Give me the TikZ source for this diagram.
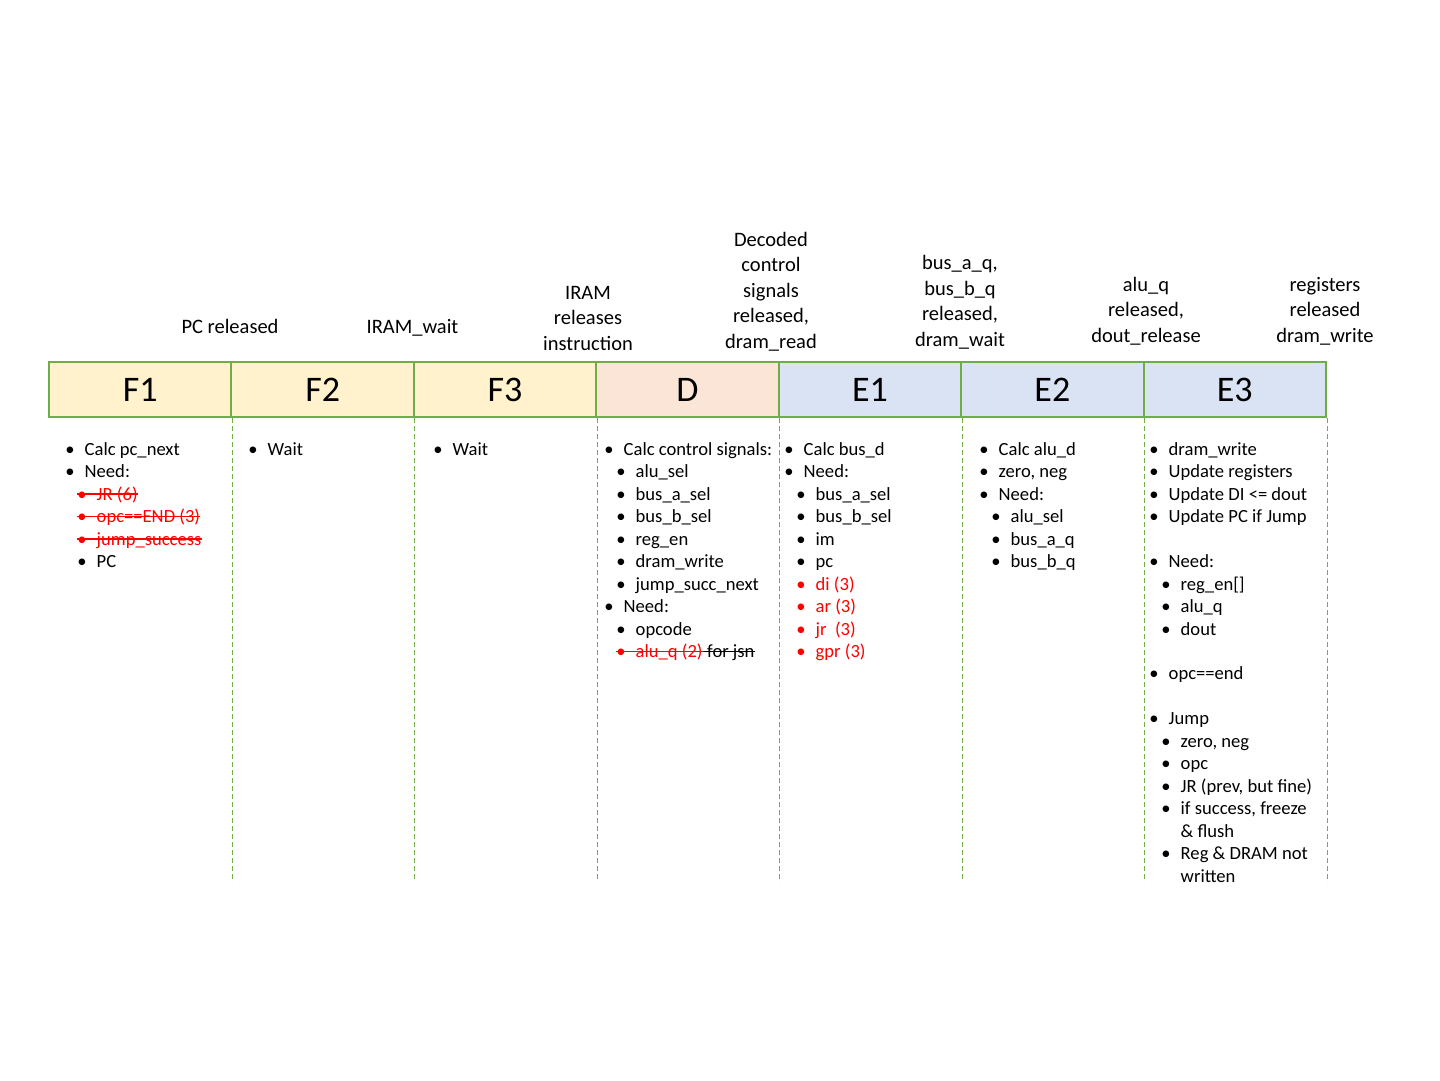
\documentclass[tikz,border=0pt]{standalone}
\usepackage{fontspec}
\setmainfont{Carlito}
\usetikzlibrary{calc}
\definecolor{bordergreen}{HTML}{70AD47}
\definecolor{fyellow}{HTML}{FFF2CC}
\definecolor{fpeach}{HTML}{FBE5D6}
\definecolor{fblue}{HTML}{DAE3F3}
\definecolor{sred}{HTML}{FF0000}
\tikzset{
 stage/.style={draw=bordergreen,line width=2pt,minimum width=182.43pt,minimum height=55pt,inner sep=0pt,font=\fontsize{36}{40}\selectfont,anchor=north west},
 body/.style={inner sep=0pt,font=\fontsize{18.6}{22}\selectfont},
 toplbl/.style={inner sep=0pt,align=center,font=\fontsize{20.5}{25.5}\selectfont,anchor=base},
 guide/.style={draw=bordergreen,line width=1pt,dash pattern=on 5pt off 3pt},
 strike/.style={line width=1.2pt}
}
\newcommand\itm[5][black]{%
 \node[body,text=#1,anchor=base] (#2b) at (#3,#4+6) {•};
 \node[body,text=#1,anchor=base west] (#2) at (#3+14.5,#4+6) {#5};}
\newcommand\plain[5][black]{%
 \node[body,text=#1,anchor=base west] (#2) at (#3+0.5,#4+6) {#5};}
\begin{document}
\begin{tikzpicture}[x=1pt,y=-1pt]
\useasboundingbox (0,0) rectangle (1440,1080);
% stage boxes
\node[stage,fill=fyellow] (f1) at (48,361) {F1};
\node[stage,fill=fyellow] (f2) at (230.43,361) {F2};
\node[stage,fill=fyellow] (f3) at (412.86,361) {F3};
\node[stage,fill=fpeach] (d) at (595.29,361) {D};
\node[stage,fill=fblue] (e1) at (777.71,361) {E1};
\node[stage,fill=fblue] (e2) at (960.14,361) {E2};
\node[stage,fill=fblue] (e3) at (1142.57,361) {E3};
% guides
\foreach \n in {f1,f2,f3,d,e1,e2,e3}
  \draw[guide] (\n.south east) -- (\n.south east |- 0,882);
% top labels (base = last line)
\node[toplbl] (l1) at (230,333) {PC released};
\node[toplbl] (l2) at (412.5,333) {IRAM\_wait};
\node[toplbl] (l3) at (588,350) {IRAM\\releases\\instruction};
\node[toplbl] (l4) at (771,348) {Decoded\\control\\signals\\released,\\dram\_read};
\node[toplbl] (l5) at (960,346) {bus\_a\_q,\\bus\_b\_q\\released,\\dram\_wait};
\node[toplbl] (l6) at (1146,342) {alu\_q\\released,\\dout\_release};
\node[toplbl] (l7) at (1325,342) {registers\\released\\dram\_write};
% F1
\itm{a1}{70}{449}{Calc pc\_next}
\itm{a2}{70}{471.5}{Need:}
\itm[sred]{a3}{82}{494}{JR (6)}
\itm[sred]{a4}{82}{516.5}{opc==END (3)}
\itm[sred]{a5}{82}{539}{jump\_success}
\itm{a6}{82}{561.5}{PC}
\draw[strike,sred] (77,494) -- (a3.east |- 0,494);
\draw[strike,sred] (77,516.5) -- (a4.east |- 0,516.5);
\draw[strike,sred] (77,539) -- (a5.east |- 0,539);
% F2, F3
\itm{b1}{253}{449}{Wait}
\itm{c1}{438}{449}{Wait}
% D
\itm{d1}{609}{449}{Calc control signals:}
\itm{d2}{621}{471.5}{alu\_sel}
\itm{d3}{621}{494}{bus\_a\_sel}
\itm{d4}{621}{516.5}{bus\_b\_sel}
\itm{d5}{621}{539}{reg\_en}
\itm{d6}{621}{561.5}{dram\_write}
\itm{d7}{621}{584}{jump\_succ\_next}
\itm{d8}{609}{606.5}{Need:}
\itm{d9}{621}{629}{opcode}
\itm[sred]{d10}{621}{651.5}{alu\_q (2)}
\node[body,anchor=base west] (d11) at (d10.base east) {\ for jsn};
\draw[strike,sred] (616,651.5) -- (d10.east |- 0,651.5);
\draw[strike,black] (d10.east |- 0,651.5) -- (d11.east |- 0,651.5);
% E1
\itm{e1a}{789}{449}{Calc bus\_d}
\itm{e1b}{789}{471.5}{Need:}
\itm{e1c}{801}{494}{bus\_a\_sel}
\itm{e1d}{801}{516.5}{bus\_b\_sel}
\itm{e1e}{801}{539}{im}
\itm{e1f}{801}{561.5}{pc}
\itm[sred]{e1g}{801}{584}{di (3)}
\itm[sred]{e1h}{801}{606.5}{ar (3)}
\itm[sred]{e1i}{801}{629}{jr\ \ (3)}
\itm[sred]{e1j}{801}{651.5}{gpr (3)}
% E2
\itm{e2a}{984}{449}{Calc alu\_d}
\itm{e2b}{984}{471.5}{zero, neg}
\itm{e2c}{984}{494}{Need:}
\itm{e2d}{996}{516.5}{alu\_sel}
\itm{e2e}{996}{539}{bus\_a\_q}
\itm{e2f}{996}{561.5}{bus\_b\_q}
% E3
\itm{e3a}{1154}{449}{dram\_write}
\itm{e3b}{1154}{471.5}{Update registers}
\itm{e3c}{1154}{494}{Update DI <= dout}
\itm{e3d}{1154}{516.5}{Update PC if Jump}
\itm{e3e}{1154}{561.5}{Need:}
\itm{e3f}{1166}{584}{reg\_en[]}
\itm{e3g}{1166}{606.5}{alu\_q}
\itm{e3h}{1166}{629}{dout}
\itm{e3i}{1154}{673.5}{opc==end}
\itm{e3j}{1154}{718.5}{Jump}
\itm{e3k}{1166}{741}{zero, neg}
\itm{e3l}{1166}{763.5}{opc}
\itm{e3m}{1166}{786}{JR (prev, but fine)}
\itm{e3n}{1166}{808.5}{if success, freeze}
\plain{e3o}{1180}{831}{\& flush}
\itm{e3p}{1166}{853.5}{Reg \& DRAM not}
\plain{e3q}{1180}{876}{written}
\end{tikzpicture}
\end{document}
